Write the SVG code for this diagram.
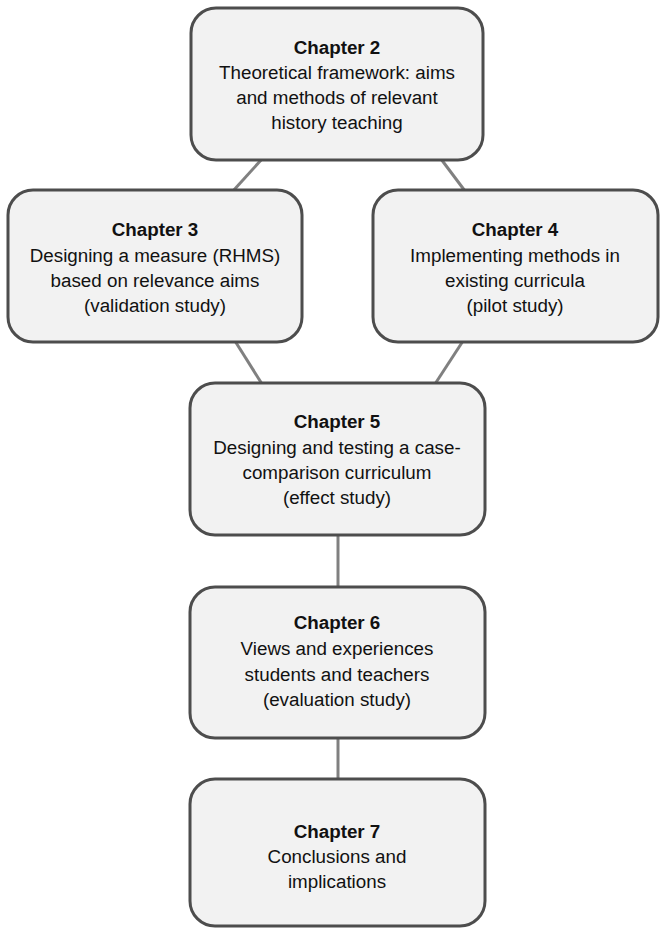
<svg xmlns="http://www.w3.org/2000/svg" width="661" height="928" viewBox="0 0 661 928">
<style>
.box{fill:#f2f2f2;stroke:#4d4d4d;stroke-width:3}
.conn line{stroke:#808080;stroke-width:3}
text{font-family:"Liberation Sans",Arial,sans-serif;font-size:18.8px;fill:#111;text-anchor:middle}
.t{font-weight:bold}
</style>
<rect width="661" height="928" fill="#ffffff"/>
<g class="conn" id="connectors">
<line x1="262" y1="159" x2="233" y2="191"/>
<line x1="441" y1="159" x2="465" y2="191"/>
<line x1="235" y1="341" x2="262" y2="384"/>
<line x1="463" y1="341" x2="435" y2="384"/>
<line x1="338" y1="535" x2="338" y2="588"/>
<line x1="338" y1="738" x2="338" y2="780"/>
</g>
<g id="ch2">
<rect class="box" x="191" y="8" width="292" height="152" rx="25"/>
<text x="337" y="54" class="t">Chapter 2</text>
<text x="337" y="79">Theoretical framework: aims</text>
<text x="337" y="104">and methods of relevant</text>
<text x="337" y="129">history teaching</text>
</g>
<g id="ch3">
<rect class="box" x="8" y="190" width="294" height="152" rx="25"/>
<text x="155" y="236" class="t">Chapter 3</text>
<text x="155" y="262">Designing a measure (RHMS)</text>
<text x="155" y="287">based on relevance aims</text>
<text x="155" y="312">(validation study)</text>
</g>
<g id="ch4">
<rect class="box" x="373" y="190" width="285" height="152" rx="25"/>
<text x="515" y="236" class="t">Chapter 4</text>
<text x="515" y="262">Implementing methods in</text>
<text x="515" y="287">existing curricula</text>
<text x="515" y="312">(pilot study)</text>
</g>
<g id="ch5">
<rect class="box" x="190" y="383" width="295" height="152" rx="25"/>
<text x="337" y="428" class="t">Chapter 5</text>
<text x="337" y="454">Designing and testing a case-</text>
<text x="337" y="479">comparison curriculum</text>
<text x="337" y="504">(effect study)</text>
</g>
<g id="ch6">
<rect class="box" x="190" y="587" width="295" height="151" rx="25"/>
<text x="337" y="629" class="t">Chapter 6</text>
<text x="337" y="655">Views and experiences</text>
<text x="337" y="681">students and teachers</text>
<text x="337" y="706">(evaluation study)</text>
</g>
<g id="ch7">
<rect class="box" x="190" y="779" width="295" height="147" rx="25"/>
<text x="337" y="838" class="t">Chapter 7</text>
<text x="337" y="863">Conclusions and</text>
<text x="337" y="888">implications</text>
</g>
</svg>
